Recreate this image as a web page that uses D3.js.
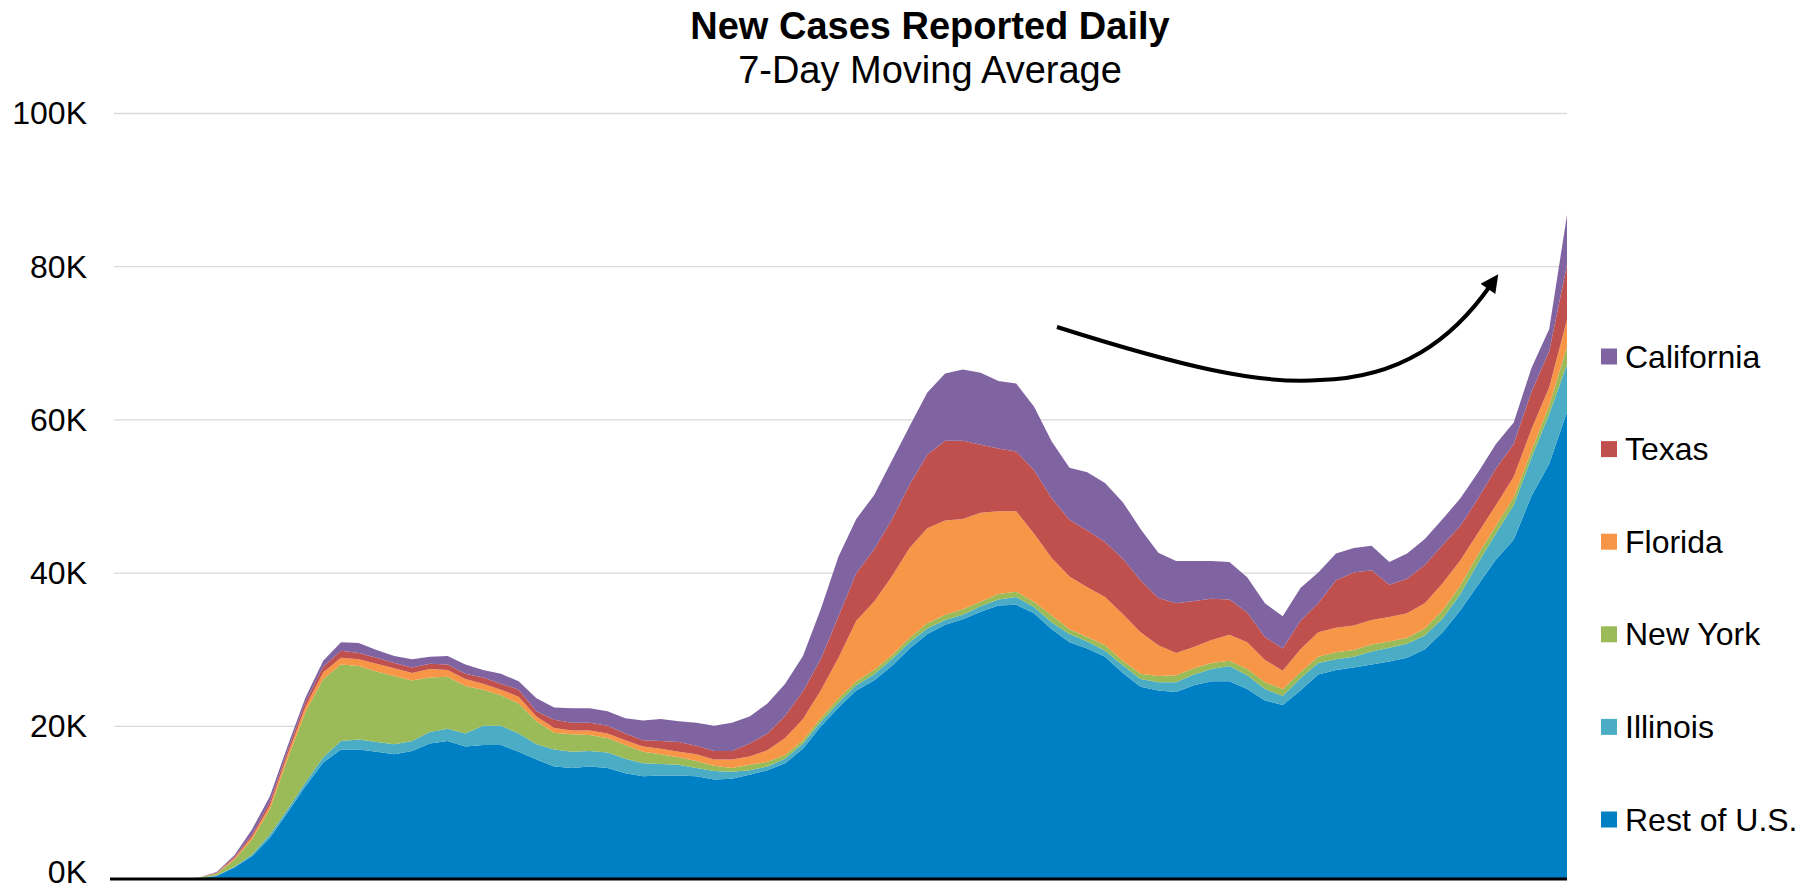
<!DOCTYPE html>
<html>
<head>
<meta charset="utf-8">
<script src="https://cdn.jsdelivr.net/npm/d3@7"></script>
<style>
  html, body { margin: 0; padding: 0; background: #ffffff; }
  svg { display: block; font-family: "Liberation Sans", Arial, sans-serif; }
</style>
</head>
<body>
<svg id="chart" width="1820" height="890"></svg>
<script>
// Reporting dates: one sample every third day, Feb 29 – Nov 1, 2020
const dates = d3.timeDay.range(new Date(2020, 1, 29), new Date(2020, 10, 2), 3);

// 7-day moving average of new cases, in thousands
const restOfUS = [
  0, 0, 0, 0, 0, 0.1, 0.4, 1.5, 3.0, 5.4,
  8.7, 12.1, 15.2, 16.9, 16.9, 16.6, 16.3, 16.7, 17.7, 18.0,
  17.3, 17.5, 17.5, 16.6, 15.6, 14.7, 14.5, 14.7, 14.5, 13.8,
  13.4, 13.5, 13.5, 13.4, 13.0, 13.1, 13.6, 14.2, 15.1, 17.0,
  19.9, 22.4, 24.6, 25.9, 27.8, 30.1, 32.0, 33.2, 33.9, 34.9,
  35.7, 35.8, 34.7, 32.6, 30.9, 30.1, 29.0, 26.9, 25.1, 24.6,
  24.4, 25.3, 25.8, 25.8, 24.8, 23.3, 22.7, 24.6, 26.7, 27.3,
  27.6, 28.0, 28.4, 28.9, 30.0, 32.2, 35.1, 38.4, 41.7, 44.3,
  50.0, 54.2, 61.0
];
const illinois = [
  0, 0, 0, 0, 0, 0, 0.05, 0.1, 0.2, 0.4,
  0.4, 0.5, 0.7, 1.1, 1.3, 1.3, 1.3, 1.3, 1.5, 1.6,
  1.7, 2.5, 2.5, 2.4, 2.0, 2.2, 2.1, 2.0, 2.0, 1.9,
  1.7, 1.5, 1.4, 1.1, 1.1, 0.9, 0.6, 0.5, 0.6, 0.7,
  0.6, 0.6, 0.7, 0.8, 0.9, 0.8, 0.7, 0.6, 0.6, 0.7,
  0.8, 1.0, 0.8, 0.9, 1.1, 0.9, 0.8, 1.0, 1.0, 1.1,
  1.3, 1.4, 1.6, 2.0, 1.8, 1.5, 1.2, 1.6, 1.5, 1.4,
  1.4, 1.7, 1.8, 1.8, 1.8, 1.8, 2.1, 2.9, 3.4, 4.5,
  5.0, 6.5, 6.2
];
const newYork = [
  0, 0, 0, 0, 0, 0.1, 0.25, 0.9, 2.0, 3.3,
  6.6, 9.2, 10.2, 10.0, 9.6, 9.2, 8.9, 7.9, 7.1, 6.8,
  6.2, 4.7, 4.0, 3.9, 3.0, 2.2, 2.3, 2.1, 1.9, 1.8,
  1.5, 1.3, 1.0, 0.9, 0.7, 0.5, 0.7, 0.6, 0.5, 0.4,
  0.5, 0.6, 0.5, 0.6, 0.5, 0.6, 0.7, 0.7, 0.7, 0.6,
  0.7, 0.7, 0.7, 0.9, 0.6, 0.6, 0.7, 0.6, 0.7, 0.8,
  0.9, 0.8, 0.8, 0.7, 0.8, 0.9, 0.9, 0.8, 0.8, 0.9,
  0.9, 0.9, 0.8, 0.8, 0.9, 1.1, 1.1, 1.1, 1.0, 1.0,
  0.9, 1.1, 2.3
];
const florida = [
  0, 0, 0, 0, 0, 0, 0.05, 0.2, 0.3, 0.5,
  0.6, 0.7, 0.9, 0.9, 0.9, 1.0, 1.0, 1.0, 1.1, 0.9,
  0.9, 0.8, 0.7, 0.9, 0.6, 0.6, 0.5, 0.6, 0.6, 0.6,
  0.7, 0.7, 0.7, 0.9, 0.8, 1.1, 1.1, 1.5, 2.2, 2.8,
  3.6, 5.3, 7.9, 8.9, 10.3, 11.7, 12.4, 12.3, 11.8, 11.6,
  10.8, 10.5, 8.9, 7.5, 6.9, 6.5, 6.3, 6.1, 5.4, 4.0,
  2.9, 2.8, 3.0, 3.4, 3.5, 2.9, 2.4, 3.0, 3.2, 3.2,
  3.2, 3.2, 3.2, 3.2, 3.3, 3.5, 3.3, 2.8, 2.7, 2.7,
  2.8, 2.4, 3.5
];
const texas = [
  0, 0, 0, 0, 0, 0, 0.05, 0.2, 0.3, 0.5,
  0.5, 0.6, 0.7, 0.9, 0.8, 0.8, 0.7, 0.7, 0.7, 0.7,
  0.7, 0.8, 0.8, 0.9, 0.7, 1.1, 1.0, 1.0, 1.0, 0.9,
  0.8, 1.0, 1.3, 1.1, 1.1, 1.1, 1.7, 2.2, 2.9, 3.6,
  4.1, 5.4, 6.2, 6.8, 7.4, 8.3, 9.6, 10.4, 10.2, 8.9,
  8.2, 7.8, 8.3, 7.8, 7.4, 7.4, 7.2, 7.2, 6.8, 6.2,
  6.5, 6.0, 5.4, 4.6, 3.9, 3.0, 2.9, 3.7, 3.8, 6.2,
  6.9, 6.5, 4.2, 4.5, 5.0, 5.0, 4.5, 4.5, 4.8, 4.3,
  4.9, 4.7, 7.2
];
const california = [
  0, 0, 0, 0, 0, 0, 0.1, 0.2, 0.7, 0.7,
  0.6, 0.6, 0.8, 1.1, 1.3, 1.0, 0.9, 1.1, 0.9, 1.1,
  1.2, 1.0, 1.3, 1.1, 1.7, 1.6, 1.9, 1.9, 1.9, 2.0,
  2.6, 2.9, 2.7, 3.0, 3.3, 3.7, 3.5, 3.9, 4.2, 4.6,
  6.5, 7.8, 7.1, 7.1, 7.7, 7.6, 8.1, 8.8, 9.3, 9.4,
  8.8, 8.9, 8.3, 7.4, 6.8, 7.6, 7.7, 7.4, 6.7, 5.9,
  5.5, 5.2, 4.9, 4.9, 4.6, 4.4, 4.2, 4.3, 4.0, 3.5,
  3.2, 3.2, 3.0, 3.3, 3.4, 3.4, 3.6, 3.4, 3.2, 2.8,
  3.1, 2.9, 6.5
];

// Stack order, bottom to top
const seriesNames = ["Rest of U.S.", "Illinois", "New York", "Florida", "Texas", "California"];
const seriesValues = [restOfUS, illinois, newYork, florida, texas, california];
const seriesColors = ["#0080C4", "#4BACC6", "#9BBB59", "#F79646", "#C0504D", "#8064A2"];

const yTicks = [0, 20, 40, 60, 80, 100];
const yTickLabels = ["0K", "20K", "40K", "60K", "80K", "100K"];

const titleText = "New Cases Reported Daily";
const subtitleText = "7-Day Moving Average";

// Build row records for d3.stack
const rows = dates.map((d, i) => {
  const r = { date: d };
  seriesNames.forEach((name, k) => { r[name] = seriesValues[k][i]; });
  return r;
});

const svg = d3.select("#chart");
const plot = { left: 110, right: 1567, top: 113, bottom: 879 };

const x = d3.scaleTime()
  .domain(d3.extent(dates))
  .range([plot.left, plot.right]);

const y = d3.scaleLinear()
  .domain([0, 100])
  .range([plot.bottom, plot.top]);

// Gridlines and value labels
const yAxis = d3.axisLeft(y)
  .tickValues(yTicks)
  .tickSize(-(plot.right - 114))
  .tickPadding(27)
  .tickFormat((d, i) => yTickLabels[i]);

const gAxis = svg.append("g")
  .attr("transform", "translate(114,0)")
  .call(yAxis);
gAxis.select(".domain").remove();
gAxis.selectAll(".tick line")
  .attr("stroke", "#D9D9D9")
  .attr("stroke-width", 1.3)
  .filter(d => d === 0).remove();
// the bottom label is nudged up so it stays inside the canvas
gAxis.selectAll(".tick text")
  .attr("fill", "#000")
  .attr("font-size", 32)
  .attr("dy", d => d === 0 ? "0.12em" : "0.34em")
  .style("font-family", "'Liberation Sans', Arial, sans-serif");

// Stacked areas
const stack = d3.stack().keys(seriesNames);
const layers = stack(rows);

const area = d3.area()
  .x(d => x(d.data.date))
  .y0(d => y(d[0]))
  .y1(d => y(d[1]));

svg.append("g")
  .selectAll("path")
  .data(layers)
  .join("path")
  .attr("d", area)
  .attr("fill", (d, i) => seriesColors[i]);

// Horizontal axis line
svg.append("line")
  .attr("x1", plot.left).attr("x2", plot.right)
  .attr("y1", y(0)).attr("y2", y(0))
  .attr("stroke", "#000")
  .attr("stroke-width", 3);

// Titles
svg.append("text")
  .attr("x", 930).attr("y", 39)
  .attr("text-anchor", "middle")
  .attr("font-size", 38)
  .attr("font-weight", "bold")
  .text(titleText);

svg.append("text")
  .attr("x", 930).attr("y", 83)
  .attr("text-anchor", "middle")
  .attr("font-size", 38)
  .text(subtitleText);

// Legend, top entry is the top layer
const legend = svg.append("g");
const legendOrder = seriesNames.map((n, i) => i).reverse();
legendOrder.forEach((k, row) => {
  const cy = 356.5 + row * 92.6;
  legend.append("rect")
    .attr("x", 1601).attr("y", cy - 8)
    .attr("width", 16).attr("height", 16)
    .attr("fill", seriesColors[k]);
  legend.append("text")
    .attr("x", 1625).attr("y", cy + 11)
    .attr("font-size", 32)
    .attr("fill", "#000")
    .text(seriesNames[k]);
});

// Trend arrow
const defs = svg.append("defs");
defs.append("marker")
  .attr("id", "arrowhead")
  .attr("viewBox", "0 0 10 10")
  .attr("refX", 2).attr("refY", 5)
  .attr("markerUnits", "userSpaceOnUse")
  .attr("markerWidth", 20).attr("markerHeight", 18)
  .attr("orient", "auto")
  .append("path")
  .attr("d", "M0,0 L10,5 L0,10 Z")
  .attr("fill", "#000");

const arrowPath = d3.path();
arrowPath.moveTo(1057, 327);
arrowPath.bezierCurveTo(1180, 366, 1260, 385, 1320, 380);
arrowPath.bezierCurveTo(1400, 378, 1452, 340, 1490, 286);

svg.append("path")
  .attr("d", arrowPath.toString())
  .attr("fill", "none")
  .attr("stroke", "#000")
  .attr("stroke-width", 4)
  .attr("marker-end", "url(#arrowhead)");
</script>
</body>
</html>
